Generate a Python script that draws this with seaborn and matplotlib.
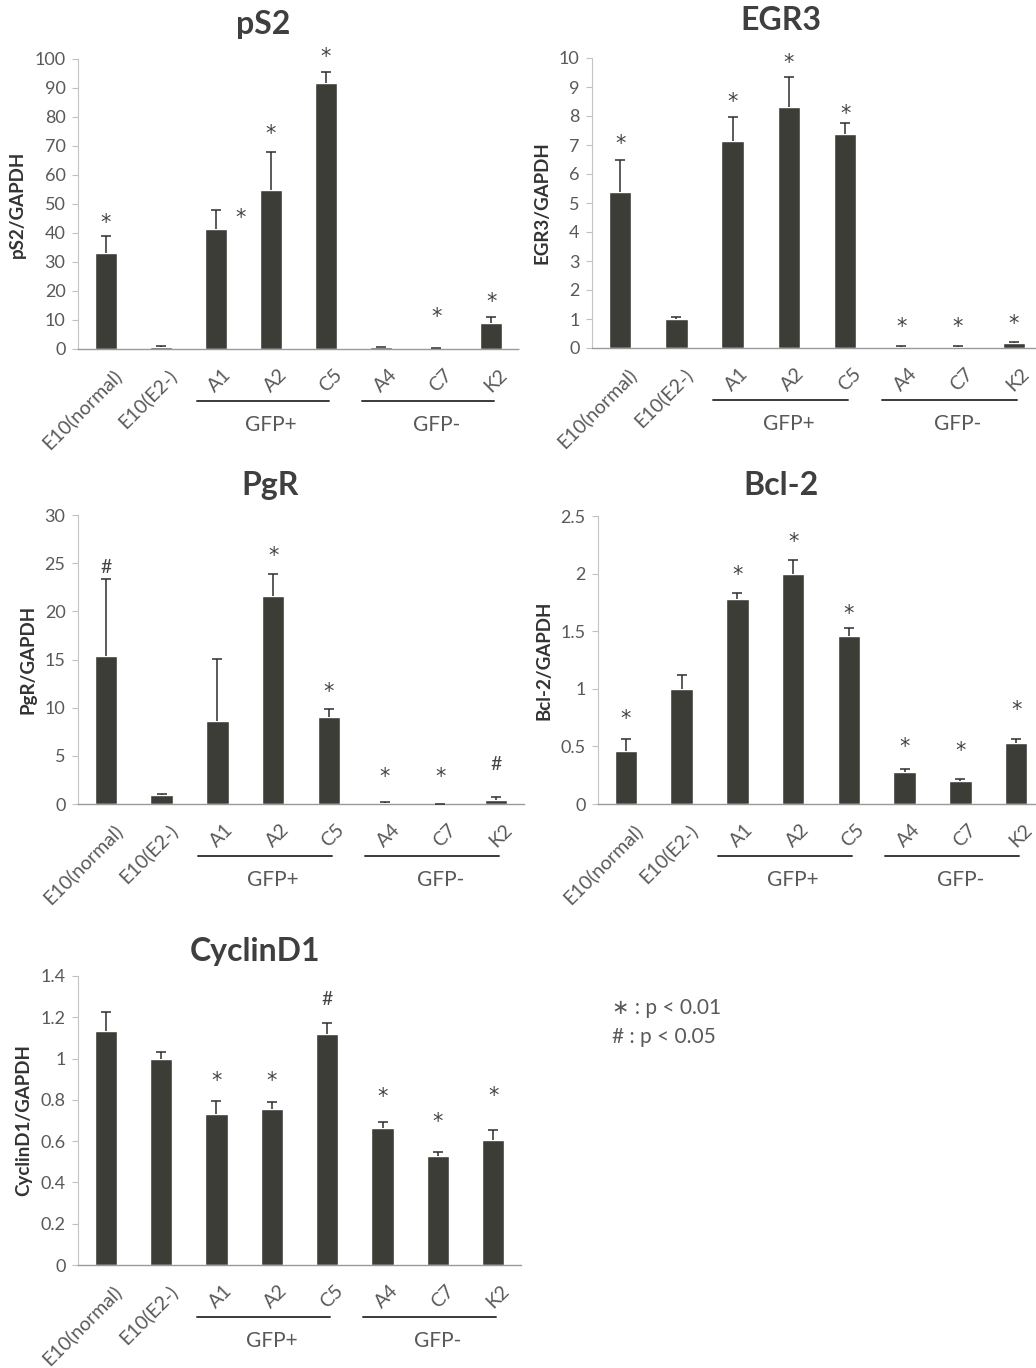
import numpy as np
import pandas as pd
import matplotlib
matplotlib.use("Agg")
import matplotlib.pyplot as plt
import matplotlib.transforms as mtransforms
import seaborn as sns

# cell lines on the x axis (same for every panel)
categories = ["E10(normal)", "E10(E2-)", "A1", "A2", "C5", "A4", "C7", "K2"]
groups = [("GFP+", ["A1", "A2", "C5"]), ("GFP-", ["A4", "C7", "K2"])]

# mean expression / GAPDH and upper error (SE)
ps2_mean = [33.1, 0.8, 41.4, 54.8, 91.7, 0.6, 0.3, 9.0]
ps2_err = [6.0, 0.3, 6.6, 13.2, 3.8, 0.2, 0.2, 2.0]
# (symbol, category, height, x shift)
ps2_sig = [("*", "E10(normal)", 45.5, 0), ("*", "A1", 47, 0.45), ("*", "A2", 76, 0),
           ("*", "C5", 102.5, 0), ("*", "C7", 12.8, 0), ("*", "K2", 18, 0)]

egr3_mean = [5.39, 1.0, 7.15, 8.3, 7.38, 0.05, 0.04, 0.18]
egr3_err = [1.09, 0.08, 0.82, 1.03, 0.37, 0.02, 0.02, 0.03]
egr3_sig = [("*", "E10(normal)", 7.24, 0), ("*", "A1", 8.67, 0), ("*", "A2", 10.02, 0),
            ("*", "C5", 8.26, 0), ("*", "A4", 0.91, 0), ("*", "C7", 0.91, 0), ("*", "K2", 1.02, 0)]

pgr_mean = [15.4, 0.93, 8.6, 21.6, 9.0, 0.15, 0.0, 0.4]
pgr_err = [8.0, 0.15, 6.5, 2.3, 0.9, 0.05, 0.0, 0.3]
pgr_sig = [("#", "E10(normal)", 24.5, 0), ("*", "A2", 26.3, 0), ("*", "C5", 12.25, 0),
           ("*", "A4", 3.36, 0), ("*", "C7", 3.36, 0), ("#", "K2", 4.05, 0)]

bcl2_mean = [0.46, 0.995, 1.777, 1.994, 1.458, 0.275, 0.20, 0.527]
bcl2_err = [0.107, 0.125, 0.053, 0.126, 0.067, 0.025, 0.02, 0.033]
bcl2_sig = [("*", "E10(normal)", 0.787, 0), ("*", "A1", 2.04, 0), ("*", "A2", 2.32, 0),
            ("*", "C5", 1.70, 0), ("*", "A4", 0.54, 0), ("*", "C7", 0.51, 0), ("*", "K2", 0.865, 0)]

cyc_mean = [1.134, 0.998, 0.731, 0.756, 1.117, 0.662, 0.530, 0.606]
cyc_err = [0.092, 0.032, 0.063, 0.035, 0.054, 0.032, 0.019, 0.048]
cyc_sig = [("*", "A1", 0.916, 0), ("*", "A2", 0.916, 0), ("#", "C5", 1.284, 0),
           ("*", "A4", 0.84, 0), ("*", "C7", 0.72, 0), ("*", "K2", 0.848, 0)]

bar_color = "#3d3d38"
text_grey = "#595959"

sns.set_theme(style="white")
plt.rcParams["font.family"] = ["Lato", "DejaVu Sans"]

W, H = 1036, 1368
fig = plt.figure(figsize=(W / 100, H / 100), dpi=100)


def panel(box, title, ylabel, mean, err, sig, ymax, ystep, title_gap, title_x=0.42):
    left, top, right, bottom = box
    ah = bottom - top
    ax = fig.add_axes([left / W, 1 - bottom / H, (right - left) / W, ah / H])
    df = pd.DataFrame({"cell": categories, "value": mean})
    sns.barplot(data=df, x="cell", y="value", order=categories, color=bar_color,
                saturation=1, width=0.4, errorbar=None, ax=ax)
    x = np.arange(len(categories))
    mean = np.asarray(mean)
    err = np.asarray(err)
    # upper-only error bars, cap only at the top
    ax.errorbar(x, mean, yerr=[np.zeros(len(err)), err], fmt="none", ecolor="#2e2e2e",
                elinewidth=1.1, capsize=0)
    ax.scatter(x, mean + err, marker="_", s=60, color="#2e2e2e", linewidths=1.1, zorder=3)
    ax.set_xlim(-0.5, len(categories) - 0.5)
    ax.set_ylim(0, ymax)
    ticks = np.arange(0, ymax + ystep / 2, ystep)
    ax.set_yticks(ticks)
    ax.set_yticklabels(["{:g}".format(round(t, 2)) for t in ticks])
    ax.set_xlabel("")
    ax.set_ylabel(ylabel, fontsize=13.5, fontweight="bold", color="#333333", labelpad=6)

    ax.tick_params(axis="y", length=4, width=0.8, color="#c0c0c0", pad=5,
                   labelsize=13, labelcolor=text_grey, left=True)
    ax.tick_params(axis="x", length=0, pad=12, labelsize=14, labelcolor=text_grey)
    ax.set_xticks(x)
    ax.set_xticklabels(categories, rotation=45, ha="right", va="top", rotation_mode="anchor")
    shift = mtransforms.ScaledTranslation(5 / 72, 0, fig.dpi_scale_trans)
    for lab in ax.get_xticklabels():
        lab.set_transform(lab.get_transform() + shift)

    for s in ["top", "right"]:
        ax.spines[s].set_visible(False)
    ax.spines["left"].set_color("#c4c4c4")
    ax.spines["left"].set_linewidth(0.8)
    ax.spines["bottom"].set_color("#9a9a9a")
    ax.spines["bottom"].set_linewidth(1.0)
    ax.spines["bottom"].set_linestyle((0, (2, 1)))

    # significance marks
    for sym, cat, yv, dx in sig:
        if sym == "*":
            ax.annotate(sym, xy=(categories.index(cat) + dx, yv), xytext=(0, -4),
                        textcoords="offset points", ha="center", va="center",
                        fontsize=15, family="DejaVu Sans", color="#444444",
                        annotation_clip=False)
        else:
            ax.annotate(sym, xy=(categories.index(cat) + dx, yv), ha="center", va="center",
                        fontsize=14, color="#444444", annotation_clip=False)

    # group brackets under the tick labels
    trans = mtransforms.blended_transform_factory(ax.transData, ax.transAxes)
    for name, members in groups:
        i0 = categories.index(members[0])
        i1 = categories.index(members[-1])
        im = categories.index(members[len(members) // 2])
        ax.plot([i0 - 0.35, i1 + 0.05], [-52 / ah, -52 / ah], transform=trans,
                clip_on=False, color="#3a3a3a", lw=1.4)
        ax.text(im, -76 / ah, name, transform=trans, ha="center", va="center",
                fontsize=15, color=text_grey)

    ax.text(title_x, 1 + title_gap / ah, title, transform=ax.transAxes, ha="center",
            va="center", fontsize=23, fontweight="bold", color="#3f3f3f")
    return ax


panel((78, 59, 519, 349), "pS2", "pS2/GAPDH", ps2_mean, ps2_err, ps2_sig, 100, 10, 34)
panel((592, 58, 1042, 348), "EGR3", "EGR3/GAPDH", egr3_mean, egr3_err, egr3_sig, 10, 1, 37)
panel((78, 515, 524, 804), "PgR", "PgR/GAPDH", pgr_mean, pgr_err, pgr_sig, 30, 5, 30, 0.43)
panel((598, 516, 1044, 804), "Bcl-2", "Bcl-2/GAPDH", bcl2_mean, bcl2_err, bcl2_sig, 2.5, 0.5, 31, 0.41)
panel((78, 976, 521, 1265), "CyclinD1", "CyclinD1/GAPDH", cyc_mean, cyc_err, cyc_sig, 1.4, 0.2, 25, 0.40)

# significance key
fig.text(612 / W, 1 - 1008 / H, "\u2217 : p < 0.01", fontsize=15, color=text_grey, va="center")
fig.text(612 / W, 1 - 1037 / H, "# : p < 0.05", fontsize=15, color=text_grey, va="center")

fig.savefig("out.png", dpi=100)
